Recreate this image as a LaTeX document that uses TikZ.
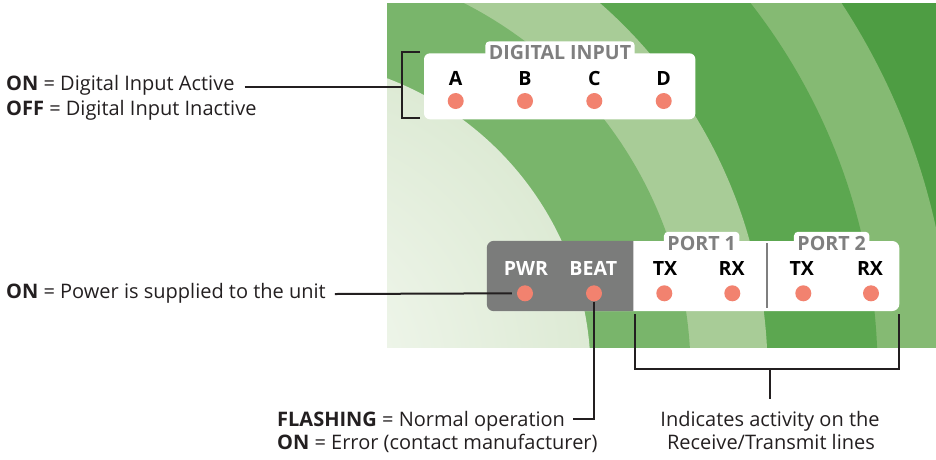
\documentclass[tikz,border=0pt]{standalone}
\usepackage{fontspec}
\setmainfont{Open Sans}
\usetikzlibrary{calc}

\definecolor{ledred}{HTML}{F2826F}
\definecolor{inkline}{HTML}{231F20}
\definecolor{titlegray}{HTML}{7F7F7F}
\definecolor{panelgray}{HTML}{7B7C7B}
\definecolor{ringout}{HTML}{4E9D43}
\definecolor{ringfour}{HTML}{85BA73}
\definecolor{ringthree}{HTML}{5CA750}
\definecolor{ringtwo}{HTML}{A8CC97}
\definecolor{ringone}{HTML}{79B56B}
\definecolor{palein}{HTML}{F6FAF3}
\definecolor{paleout}{HTML}{C4DAB6}

\pgfdeclareradialshading{palecore}{\pgfpoint{0bp}{0bp}}{color(0bp)=(palein); color(50bp)=(paleout)}

\newcommand{\calloutfont}{\fontsize{20}{24}\selectfont}
\newcommand{\labelfont}{\fontsize{19.6}{23}\selectfont\bfseries}

\begin{document}
\begin{tikzpicture}[x=1pt,y=-1pt,
    callout/.style={draw=inkline,line width=2pt},
    note/.style={anchor=base west,inner sep=0pt,text=inkline,font=\calloutfont},
    led/.style={circle,fill=ledred,minimum size=16pt,inner sep=0pt},
    keylbl/.style={anchor=base,inner sep=0pt,font=\labelfont},
    grouptitle/.style={anchor=base,fill=white,rounded corners=4pt,inner xsep=3.5pt,inner ysep=3.5pt,text=titlegray,font=\labelfont}]
    \useasboundingbox (0,0) rectangle (936,459);

    % green backdrop
    \begin{scope}
        \clip (387,3) rectangle (936,347);
        \fill[ringout] (387,3) rectangle (936,347);
        \fill[ringfour] (275.6,373) circle[radius=676pt];
        \fill[ringthree] (275.6,373) circle[radius=602pt];
        \fill[ringtwo] (275.6,373) circle[radius=492pt];
        \fill[ringone] (275.6,373) circle[radius=415pt];
        \shade[shading=palecore] (275.6,373) circle[radius=315pt];
    \end{scope}

    % digital input block
    \node[fill=white,rounded corners=6pt,minimum width=271.4pt,minimum height=66pt,inner sep=0pt] (dibox) at (559.7,86.3) {};
    \node[grouptitle] (dititle) at (560,59) {DIGITAL INPUT};
    \node[keylbl] (lbla) at (455.7,85) {A};
    \node[keylbl] (lblb) at (525,85) {B};
    \node[keylbl] (lblc) at (594.3,85) {C};
    \node[keylbl] (lbld) at (663.7,85) {D};
    \node[led] (leda) at (455.7,101) {};
    \node[led] (ledb) at (525,101) {};
    \node[led] (ledc) at (594.3,101) {};
    \node[led] (ledd) at (663.7,101) {};

    % status and port block
    \node[fill=white,rounded corners=7pt,minimum width=412.3pt,minimum height=70pt,inner sep=0pt] (ledbox) at (693.15,276) {};
    \begin{scope}
        \clip (480,230) rectangle (633.3,320);
        \fill[panelgray,rounded corners=7pt] (ledbox.north west) rectangle (ledbox.south east);
    \end{scope}
    \draw[titlegray,line width=1.6pt] (766.7,243) -- (766.7,308);
    \node[grouptitle,inner ysep=4pt] (port1) at (701.7,250) {PORT 1};
    \node[grouptitle,inner ysep=4pt] (port2) at (831.7,250) {PORT 2};
    \node[keylbl,text=white] (lblpwr) at (526,275) {PWR};
    \node[keylbl,text=white] (lblbeat) at (593.3,275) {BEAT};
    \node[keylbl] (lbltx1) at (665,275) {TX};
    \node[keylbl] (lblrx1) at (731.7,275) {RX};
    \node[keylbl] (lbltx2) at (801.7,275) {TX};
    \node[keylbl] (lblrx2) at (870,275) {RX};
    \node[led] (ledpwr) at (525,293.3) {};
    \node[led] (ledbeat) at (594,293.3) {};
    \node[led] (ledtx1) at (664.3,293.3) {};
    \node[led] (ledrx1) at (732.3,293.3) {};
    \node[led] (ledtx2) at (803.3,293.3) {};
    \node[led] (ledrx2) at (871,293.3) {};

    % notes
    \node[note] (dion) at (6,90) {\textbf{ON} = Digital Input Active};
    \node[note] (dioff) at (6,115) {\textbf{OFF} = Digital Input Inactive};
    \node[note] (pwron) at (6,298.3) {\textbf{ON} = Power is supplied to the unit};
    \node[note] (beatflash) at (277,426) {\textbf{FLASHING} = Normal operation};
    \node[note] (beaton) at (277,449.5) {\textbf{ON} = Error (contact manufacturer)};
    \node[note,anchor=base] (actone) at (770,426) {Indicates activity on the};
    \node[note,anchor=base] (acttwo) at (771,449.5) {Receive/Transmit lines};

    % brackets and leaders
    \coordinate (dibrace) at (401.7,86.7);
    \coordinate (portbrace) at (770,369.3);
    \draw[callout] (420,51.7) -- (401.7,51.7) -- (401.7,118.3) -- (420,118.3);
    \draw[callout] ([xshift=10pt,yshift=3.3pt]dion.base east) -- (dibrace);
    \draw[callout] ([xshift=9pt,yshift=4.3pt]pwron.base east) -- ([xshift=-5pt]ledpwr.west);
    \draw[callout] (ledbeat.south) |- ([xshift=8pt,yshift=6.7pt]beatflash.base east);
    \draw[callout] (634.5,314) -- (634.5,369.3) -- (899,369.3) -- (899,314);
    \draw[callout] (portbrace) -- (770,399.3);
\end{tikzpicture}
\end{document}
